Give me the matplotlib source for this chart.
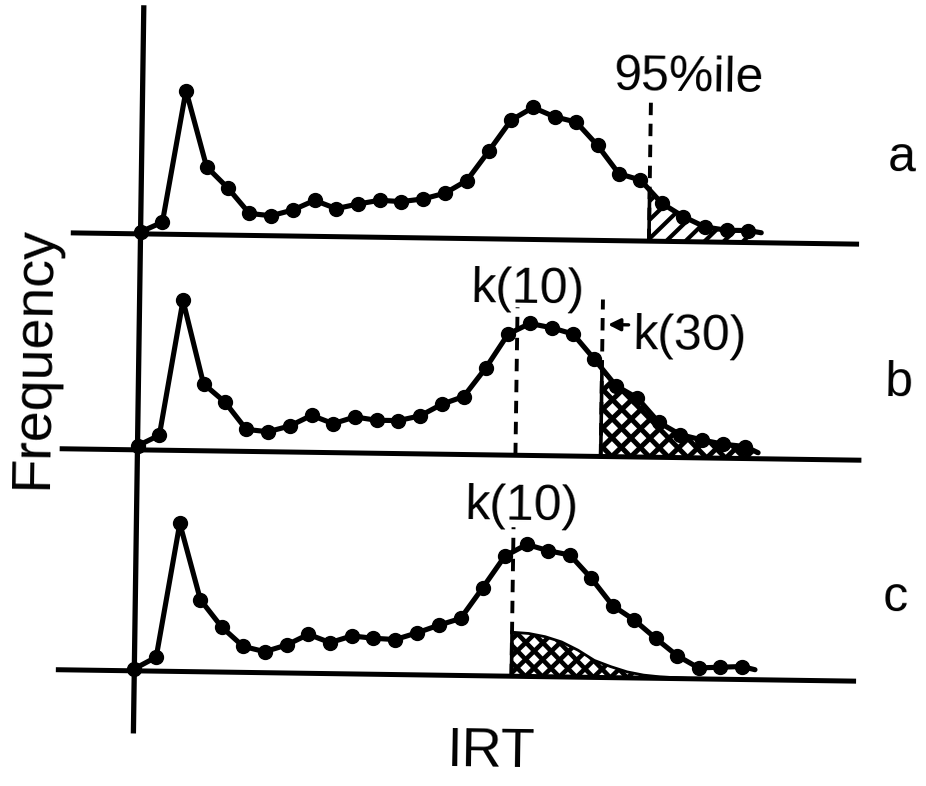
"""IRT frequency distributions with 95th percentile and k(10)/k(30) cut-offs (panels a-c)."""
import matplotlib

matplotlib.use("Agg")
import matplotlib.pyplot as plt
import numpy as np
from matplotlib.collections import LineCollection
from matplotlib.patches import Polygon
from matplotlib.transforms import Affine2D

plt.rcParams["font.family"] = ["Liberation Sans", "DejaVu Sans"]

# IRT class index and frequency per class
irt = np.arange(29)
freq_a = [2, 12, 144, 68, 47, 22, 20, 26, 36, 28, 33, 37, 36, 39, 45, 58, 88,
          119, 132, 123, 118, 95, 67, 61, 38, 25, 15, 12, 12]
freq_b = [4, 15, 150, 67, 49, 22, 20, 26, 37, 29, 36, 33, 33, 38, 50, 58, 87,
          121, 132, 128, 122, 97, 71, 59, 35, 23, 18, 14, 12]
freq_c = [2, 14, 148, 72, 45, 26, 21, 28, 39, 31, 38, 36, 35, 42, 50, 57, 88,
          120, 132, 126, 122, 99, 72, 58, 40, 23, 11, 12, 13]
irt_end = 28.6
tail_a, tail_b, tail_c = 10, 6, 10

# cut-off positions on the IRT axis
p95_a = 23.43
k10_b, k30_b = 17.42, 21.35
k10_c = 17.38

# distribution of the part above k(10) in panel c
over_irt = [17.38, 18.15, 18.91, 19.67, 20.43, 21.19, 21.95, 22.71, 23.47, 24.23, 25.9]
over_freq = [44, 43, 40, 35, 27, 17, 11, 6, 3, 1.5, 0]

# vertical offset of each panel's baseline
OFF_A, OFF_B, OFF_C = 437, 221, 0
LW = 3.7
DASH = (0, (3.2, 2.2))
PX_PER_IRT = 21.7  # one IRT class is this many frequency units wide on screen

fig = plt.figure(figsize=(9.26, 7.86), dpi=100)
ax = fig.add_axes([0, 0, 1, 1])
ax.set_xlim(-138.3 / PX_PER_IRT, (926 - 138.3) / PX_PER_IRT)
ax.set_ylim(-110.5, 675.5)
ax.axis("off")

# the whole drawing sits slightly skewed on the page
tilt = -0.82
tr = ax.transData + Affine2D().rotate_deg_around(463, 393, tilt)


def draw_curve(freq, tail, off):
    xs = np.r_[irt, irt_end]
    ys = np.r_[freq, tail] + off
    ax.plot(xs, ys, color="k", lw=LW, solid_joinstyle="round", solid_capstyle="round",
            transform=tr, zorder=4)
    ax.plot(irt, np.asarray(freq) + off, "o", ms=10, color="k", transform=tr, zorder=5)
    return xs, ys


def shade(xs, ys, off, x0, dirs, pitch, w):
    """Hand-style hatching under (xs, ys) for x >= x0; dirs: +1 '/', -1 '\\'."""
    xs = np.asarray(xs, float)
    ys = np.asarray(ys, float)
    region = Polygon(np.column_stack([np.r_[xs[0], xs, xs[-1]], np.r_[off, ys, off]]),
                     closed=True, transform=tr, facecolor="none", edgecolor="none")
    ax.add_patch(region)
    x1 = xs[-1]
    h = ys.max() - off + 10
    k = PX_PER_IRT
    segs = []
    for s in dirs:
        for c in np.arange(x0 - h / k, x1 + h / k, pitch / k):
            segs.append([(x0, off + s * k * (x0 - c)), (x1, off + s * k * (x1 - c))])
    lc = LineCollection(segs, colors="k", linewidths=w, transform=tr, zorder=2)
    ax.add_collection(lc)
    lc.set_clip_path(region)
    # left edge of the shaded area
    ax.plot([x0, x0], [off, np.interp(x0, xs, ys)], color="k", lw=2.6, transform=tr, zorder=2)


def dashed(x, off, h):
    ax.plot([x, x], [off, off + h], color="k", lw=2.8, ls=DASH, transform=tr, zorder=3)


# axes: one ordinate through all panels, one baseline per panel
ax.plot([0, 0], [-60, 663], color="k", lw=3.8, transform=tr, zorder=3)
ax.plot([-3.1, 33.0], [OFF_A, OFF_A], color="k", lw=3.6, transform=tr, zorder=3)
ax.plot([-3.47, 33.25], [OFF_B, OFF_B], color="k", lw=3.6, transform=tr, zorder=3)
ax.plot([-3.5, 33.15], [OFF_C, OFF_C], color="k", lw=3.6, transform=tr, zorder=3)

# a: 95th percentile
xs, ys = draw_curve(freq_a, tail_a, OFF_A)
shade(xs, ys, OFF_A, p95_a, (1,), 19, 3.0)
dashed(p95_a, OFF_A, 146)

# b: k(10) and k(30)
xs, ys = draw_curve(freq_b, tail_b, OFF_B)
shade(xs, ys, OFF_B, k30_b, (1, -1), 19, 3.6)
dashed(k10_b, OFF_B, 148)
dashed(k30_b, OFF_B, 157)

# c: k(10) with the distribution above it
draw_curve(freq_c, tail_c, OFF_C)
over_y = np.asarray(over_freq) + OFF_C
shade(over_irt, over_y, OFF_C, k10_c, (1, -1), 17, 3.3)
ax.plot(over_irt, over_y, color="k", lw=2.0, transform=tr, zorder=2)
dashed(k10_c, OFF_C, 149)

txt = dict(fontsize=36, color="k", transform=tr, rotation=tilt, rotation_mode="anchor")
ax.text(21.7, 587.5, "95%ile", ha="left", va="baseline", **txt)
ax.text(15.28, 373.5, "k(10)", ha="left", va="baseline", **txt)
ax.text(22.74, 328.5, "k(30)", ha="left", va="baseline", **txt)
ax.annotate("", xy=(k30_b + 0.25, OFF_B + 132), xytext=(22.55, OFF_B + 132),
            xycoords=tr, textcoords=tr,
            arrowprops=dict(arrowstyle="-|>", color="k", lw=2.4, mutation_scale=18,
                            shrinkA=0, shrinkB=0))
ax.text(15.14, 156.5, "k(10)", ha="left", va="baseline", **txt)

for lab, y in (("a", 510.5), ("b", 285.5), ("c", 70.5)):
    ax.text(35.05, y, lab, ha="center", va="baseline", **txt)

ax.text(-4.8, 312, "Frequency", ha="center", va="center", fontsize=40,
        rotation=90 + tilt, rotation_mode="anchor", transform=tr)
ax.text(16.5, -90.5, "IRT", ha="center", va="baseline", fontsize=40,
        rotation=tilt, rotation_mode="anchor", transform=tr)

fig.savefig("out.png", dpi=100, facecolor="white")
